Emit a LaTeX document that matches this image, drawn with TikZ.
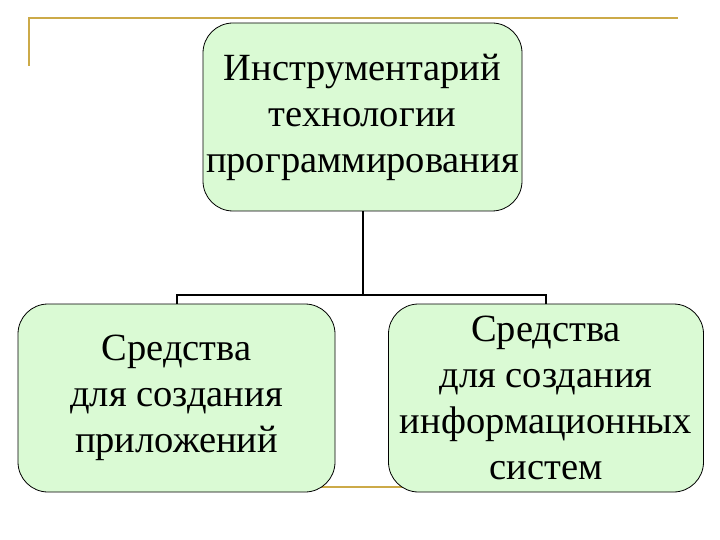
\documentclass[tikz,border=0pt]{standalone}
\usepackage{fontspec}
\setmainfont{Liberation Serif}
\usetikzlibrary{positioning}
\definecolor{Mint}{RGB}{218,250,212}
\definecolor{Gold}{RGB}{204,170,72}

\begin{document}
\begin{tikzpicture}[x=1pt,y=-1pt,
  tool/.style={rectangle,rounded corners=30pt,draw=black,line width=.8pt,fill=Mint,align=center,inner sep=0pt,font=\fontsize{38.5}{46}\selectfont},
  branch/.style={line width=2pt,black},
  rule/.style={line width=2.5pt,Gold}]
\useasboundingbox (0,0) rectangle (720,540);
% slide rules
\draw[rule] (29,66) -- (29,18) -- (678,18);
\draw[rule] (300,487) -- (420,487);
% boxes
\node[tool,minimum width=319pt,minimum height=188pt] (top) at (362.5,117) {Инструментарий\\технологии\\программирования};
\node[tool,minimum width=317pt,minimum height=188pt] (left) at (176.5,398) {Средства\\для создания\\приложений};
\node[tool,minimum width=315pt,minimum height=188pt] (right) at (546,398) {Средства\\для создания\\информационных\\систем};
% tree
\coordinate (fork) at (top.south |- 0,295);
\draw[branch] (top.south) -- (fork);
\draw[branch] (fork) -| (left.north);
\draw[branch] (fork) -| (right.north);
\end{tikzpicture}
\end{document}
